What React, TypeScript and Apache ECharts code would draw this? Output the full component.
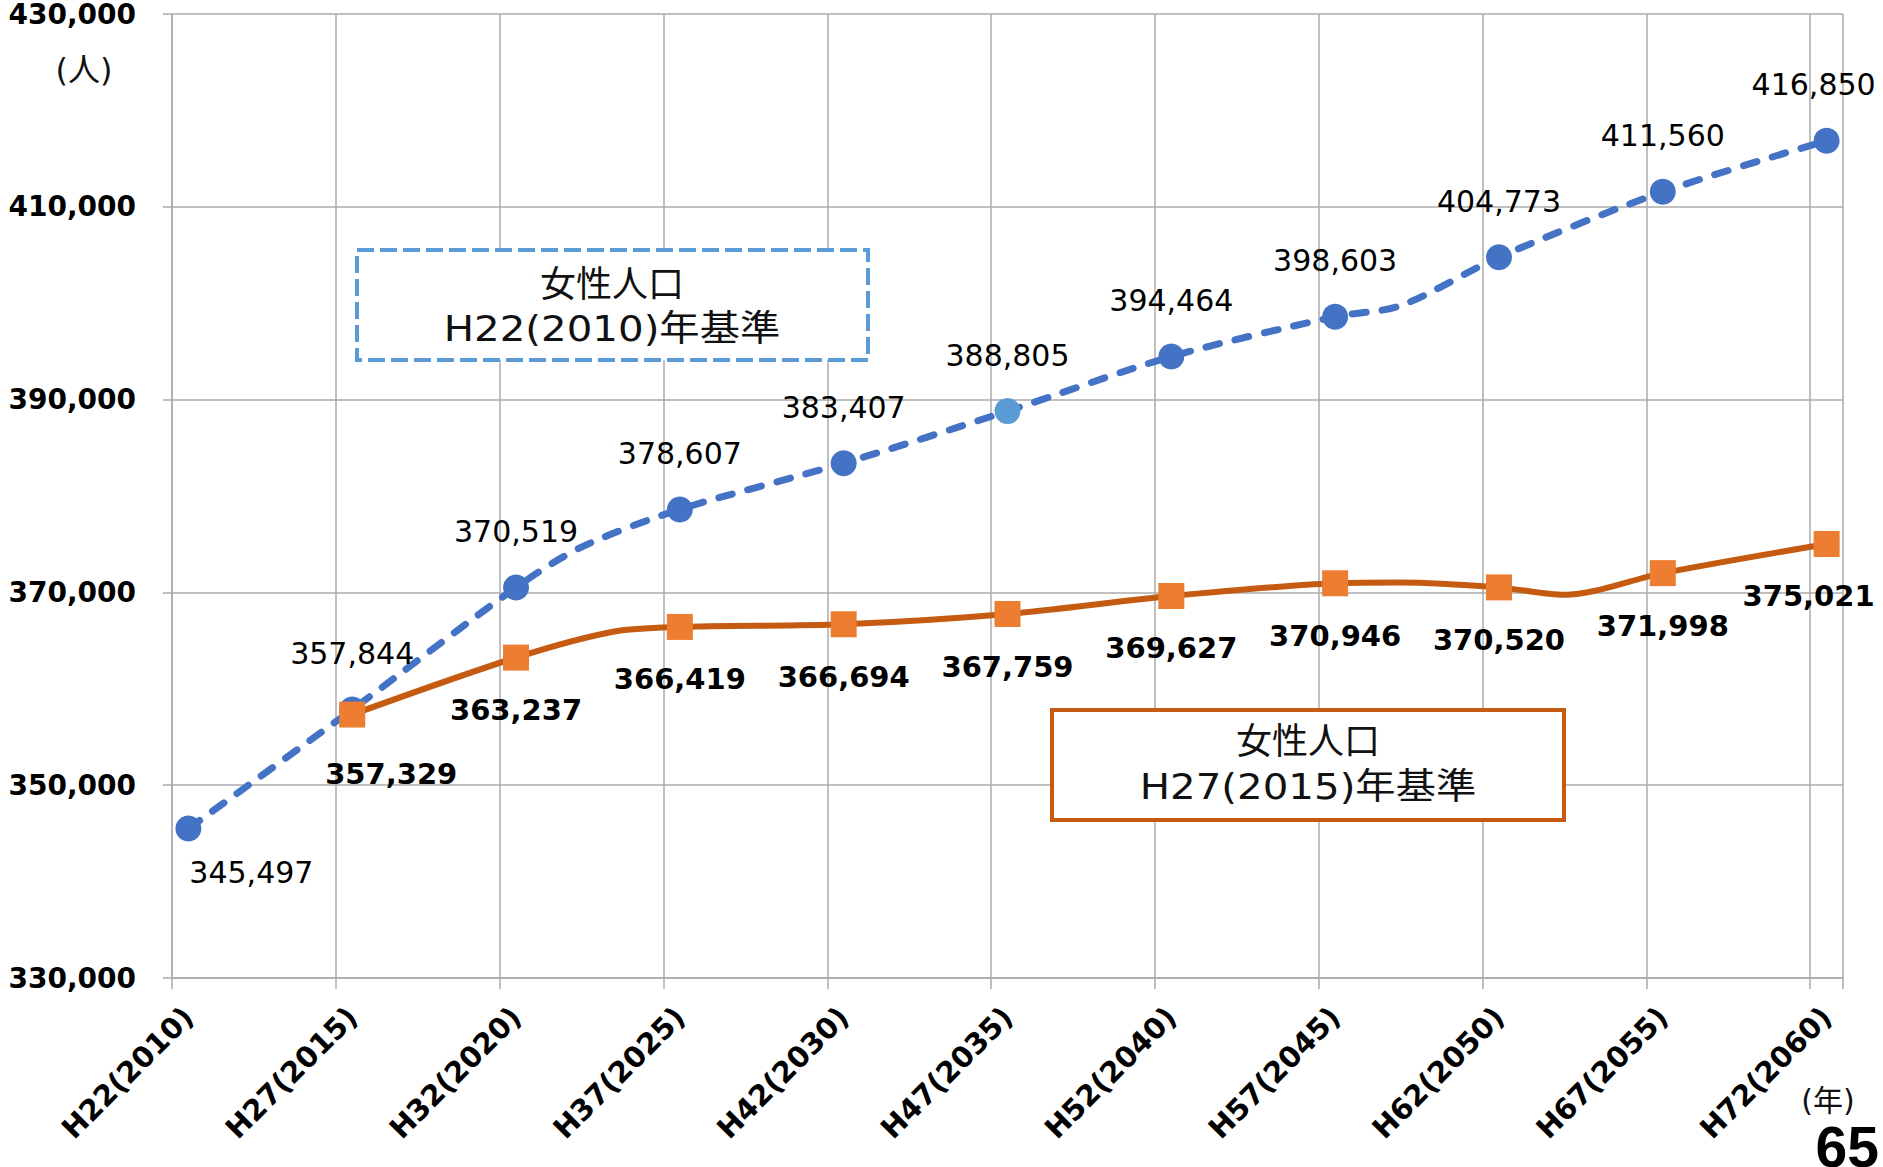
import React, { useEffect, useRef } from "react";
import * as echarts from "echarts";

// ---- data ----
const tickYears = [2010, 2015, 2020, 2025, 2030, 2035, 2040, 2045, 2050, 2055, 2060];
const tickLabels = [
  "H22(2010)", "H27(2015)", "H32(2020)", "H37(2025)", "H42(2030)", "H47(2035)",
  "H52(2040)", "H57(2045)", "H62(2050)", "H67(2055)", "H72(2060)",
];
const firstYear = 2010;
const lastYear = 2060;

// H22(2010)-based projection (blue, dashed)
const blueYears = [2010, 2015, 2020, 2022, 2025, 2030, 2035, 2040, 2045, 2047, 2050, 2055, 2060];
const blueValues = [345497, 357844, 370519, 374700, 378607, 383407, 388805, 394464, 398603, 399750, 404773, 411560, 416850];

// H27(2015)-based projection (orange, solid)
const orangeYears = [2015, 2020, 2023, 2025, 2030, 2035, 2040, 2045, 2047, 2050, 2052, 2055, 2060];
const orangeValues = [357329, 363237, 365950, 366419, 366694, 367759, 369627, 370946, 371030, 370520, 369750, 371998, 375021];

const yMin = 330000;
const yMax = 430000;
const yStep = 20000;

const blueBoxLines = ["女性人口", "H22(2010)年基準"];
const orangeBoxLines = ["女性人口", "H27(2015)年基準"];
const yUnit = "(人)";
const xUnit = "(年)";
const pageNumber = "65";

// ---- styles ----
const GRID = "#ABABAB";
const BLUE = "#4472C4";
const BLUE_LIGHT = "#5B9BD5";
const ORANGE = "#ED7D31";
const ORANGE_DARK = "#C55A11";
const NUM_FONT = "DejaVu Sans";
const BOX_FONT = "'DejaVu Sans', 'Noto Sans CJK JP'";

const fmt = (v: number) => v.toLocaleString("en-US");

function buildCategories() {
  const cats: string[] = [];
  for (let y = firstYear; y <= lastYear; y++) {
    const k = tickYears.indexOf(y);
    cats.push(k >= 0 ? tickLabels[k] : "");
  }
  return cats;
}

function buildBlue() {
  return blueYears.map((yr, i) => {
    const major = tickYears.includes(yr);
    const item: any = { value: [yr - firstYear, blueValues[i]] };
    if (!major) {
      item.symbol = "none";
      item.label = { show: false };
      return item;
    }
    if (i === 0) item.label = { position: "inside", offset: [63, 44] };
    if (i === blueYears.length - 1) item.label = { position: "top", offset: [-13, 0] };
    if (yr === 2035) item.itemStyle = { color: BLUE_LIGHT };
    return item;
  });
}

function buildOrange() {
  return orangeYears.map((yr, i) => {
    const major = tickYears.includes(yr);
    const item: any = { value: [yr - firstYear, orangeValues[i]] };
    if (!major) {
      item.symbol = "none";
      item.label = { show: false };
      return item;
    }
    if (i === 0) item.label = { position: "bottom", offset: [39, 7] };
    if (i === orangeYears.length - 1) item.label = { position: "bottom", offset: [-18, 0] };
    return item;
  });
}

function boxTexts(lines: string[], cx: number, ys: number[]) {
  return lines.map((t, i) => ({
    type: "text",
    x: cx,
    y: ys[i],
    scaleX: i === 1 ? 1.12 : 1,
    z: 20,
    style: {
      text: t,
      fontFamily: BOX_FONT,
      fontSize: 36,
      fill: "#111",
      align: "center",
      verticalAlign: "middle",
    },
  }));
}

export default function App() {
  const ref = useRef<HTMLDivElement>(null);
  useEffect(() => {
    const chart = echarts.init(ref.current!, undefined, { renderer: "svg" });
    const option: any = {
      animation: false,
      backgroundColor: "#fff",
      grid: { left: 172, right: 40, top: 12, bottom: 189, containLabel: false },
      xAxis: {
        type: "category",
        data: buildCategories(),
        boundaryGap: true,
        axisLine: { show: true, lineStyle: { color: GRID, width: 1.5 } },
        axisTick: { show: true, interval: 4, length: 11, lineStyle: { color: GRID, width: 1.5 } },
        splitLine: { show: true, interval: 4, lineStyle: { color: GRID, width: 1.5 } },
        axisLabel: {
          interval: 4,
          rotate: 45,
          margin: 34,
          color: "#000",
          fontFamily: NUM_FONT,
          fontWeight: "bold",
          fontSize: 29,
        },
      },
      yAxis: {
        type: "value",
        min: yMin,
        max: yMax,
        interval: yStep,
        axisLine: { show: true, lineStyle: { color: GRID, width: 1.5 } },
        axisTick: { show: true, length: 9, lineStyle: { color: GRID, width: 1.5 } },
        splitLine: { show: true, lineStyle: { color: GRID, width: 1.5 } },
        axisLabel: {
          margin: 36,
          color: "#000",
          fontFamily: NUM_FONT,
          fontWeight: "bold",
          fontSize: 28,
          formatter: (v: number) => fmt(v),
        },
      },
      series: [
        {
          type: "line",
          data: buildBlue(),
          smooth: 0.3,
          symbol: "circle",
          symbolSize: 26,
          itemStyle: { color: BLUE },
          lineStyle: { color: BLUE, width: 7, type: [14, 16], cap: "round" },
          label: {
            show: true,
            position: "top",
            distance: 28,
            color: "#000",
            fontFamily: NUM_FONT,
            fontSize: 30,
            formatter: (p: any) => fmt(p.value[1]),
          },
          z: 2,
        },
        {
          type: "line",
          data: buildOrange(),
          smooth: 0.3,
          symbol: "rect",
          symbolSize: 26,
          itemStyle: { color: ORANGE },
          lineStyle: { color: ORANGE_DARK, width: 6 },
          label: {
            show: true,
            position: "bottom",
            distance: 25,
            color: "#000",
            fontFamily: NUM_FONT,
            fontWeight: "bold",
            fontSize: 29,
            formatter: (p: any) => fmt(p.value[1]),
          },
          z: 3,
        },
      ],
      graphic: [
        {
          type: "rect",
          z: 19,
          shape: { x: 357, y: 250, width: 511, height: 110 },
          style: { fill: "#fff", stroke: BLUE_LIGHT, lineWidth: 4, lineDash: [17, 6] },
        },
        ...boxTexts(blueBoxLines, 612, [284, 329]),
        {
          type: "rect",
          z: 19,
          shape: { x: 1052, y: 710, width: 512, height: 110 },
          style: { fill: "#fff", stroke: ORANGE_DARK, lineWidth: 4 },
        },
        ...boxTexts(orangeBoxLines, 1308, [741, 787]),
        {
          type: "text",
          x: 84,
          y: 70,
          z: 20,
          style: {
            text: yUnit,
            fontFamily: BOX_FONT,
            fontSize: 32,
            fill: "#111",
            align: "center",
            verticalAlign: "middle",
          },
        },
        {
          type: "text",
          x: 1828,
          y: 1100,
          z: 20,
          style: {
            text: xUnit,
            fontFamily: BOX_FONT,
            fontSize: 30,
            fill: "#111",
            align: "center",
            verticalAlign: "middle",
          },
        },
        {
          type: "text",
          x: 1879,
          y: 1147,
          z: 20,
          style: {
            text: pageNumber,
            fontFamily: "'Liberation Sans'",
            fontWeight: "bold",
            fontSize: 57,
            fill: "#000",
            align: "right",
            verticalAlign: "middle",
          },
        },
      ],
    };
    chart.setOption(option);
    return () => chart.dispose();
  }, []);
  return (
    <div
      ref={ref}
      style={{ position: "absolute", left: 0, top: 0, width: 1883, height: 1167, background: "#fff" }}
    />
  );
}
